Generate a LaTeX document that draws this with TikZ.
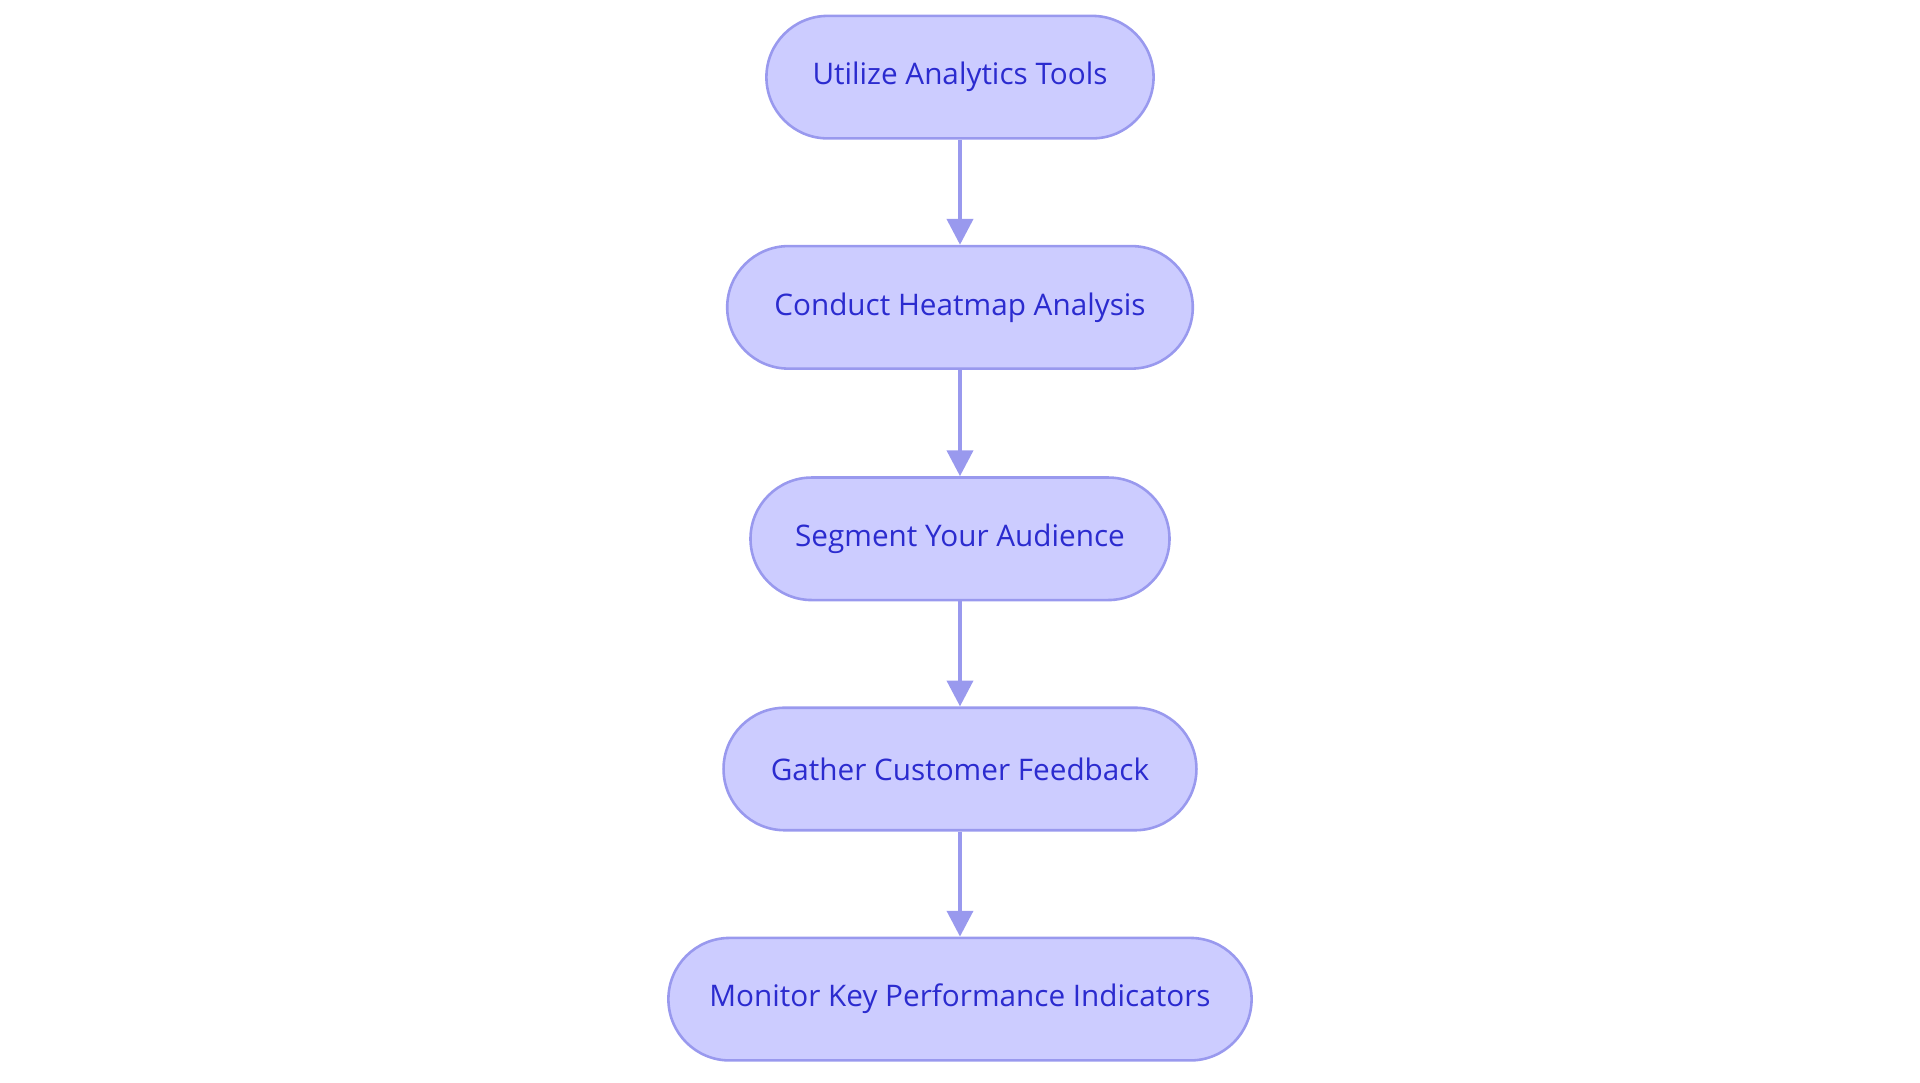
\documentclass[tikz,border=0pt]{standalone}
\usepackage{fontspec}
\setmainfont{Open Sans}
\usetikzlibrary{arrows.meta}
\definecolor{boxfill}{HTML}{CCCCFF}
\definecolor{boxline}{HTML}{9999EE}
\definecolor{boxtext}{HTML}{2B2BCF}
\begin{document}
\begin{tikzpicture}[x=0.01cm,y=-0.01cm,
  stage/.style={draw=boxline, fill=boxfill, text=boxtext, rounded corners=0.5cm,
    minimum height=1cm, line width=0.6pt, font=\fontsize{6.9}{8}\selectfont},
  flow/.style={draw=boxline, line width=1pt, -{Triangle[length=6pt,width=6pt]}}]
\useasboundingbox (0,0) rectangle (1568,884);
\node[stage, minimum width=3.16cm](a) at (784,63){Utilize Analytics Tools};
\node[stage, minimum width=3.8cm](b) at (784,251){Conduct Heatmap Analysis};
\node[stage, minimum width=3.42cm](c) at (784,440){Segment Your Audience};
\node[stage, minimum width=3.86cm](d) at (784,628){Gather Customer Feedback};
\node[stage, minimum width=4.76cm](e) at (784,816){Monitor Key Performance Indicators};
\draw[flow] (a) -- (b);
\draw[flow] (b) -- (c);
\draw[flow] (c) -- (d);
\draw[flow] (d) -- (e);
\end{tikzpicture}
\end{document}
